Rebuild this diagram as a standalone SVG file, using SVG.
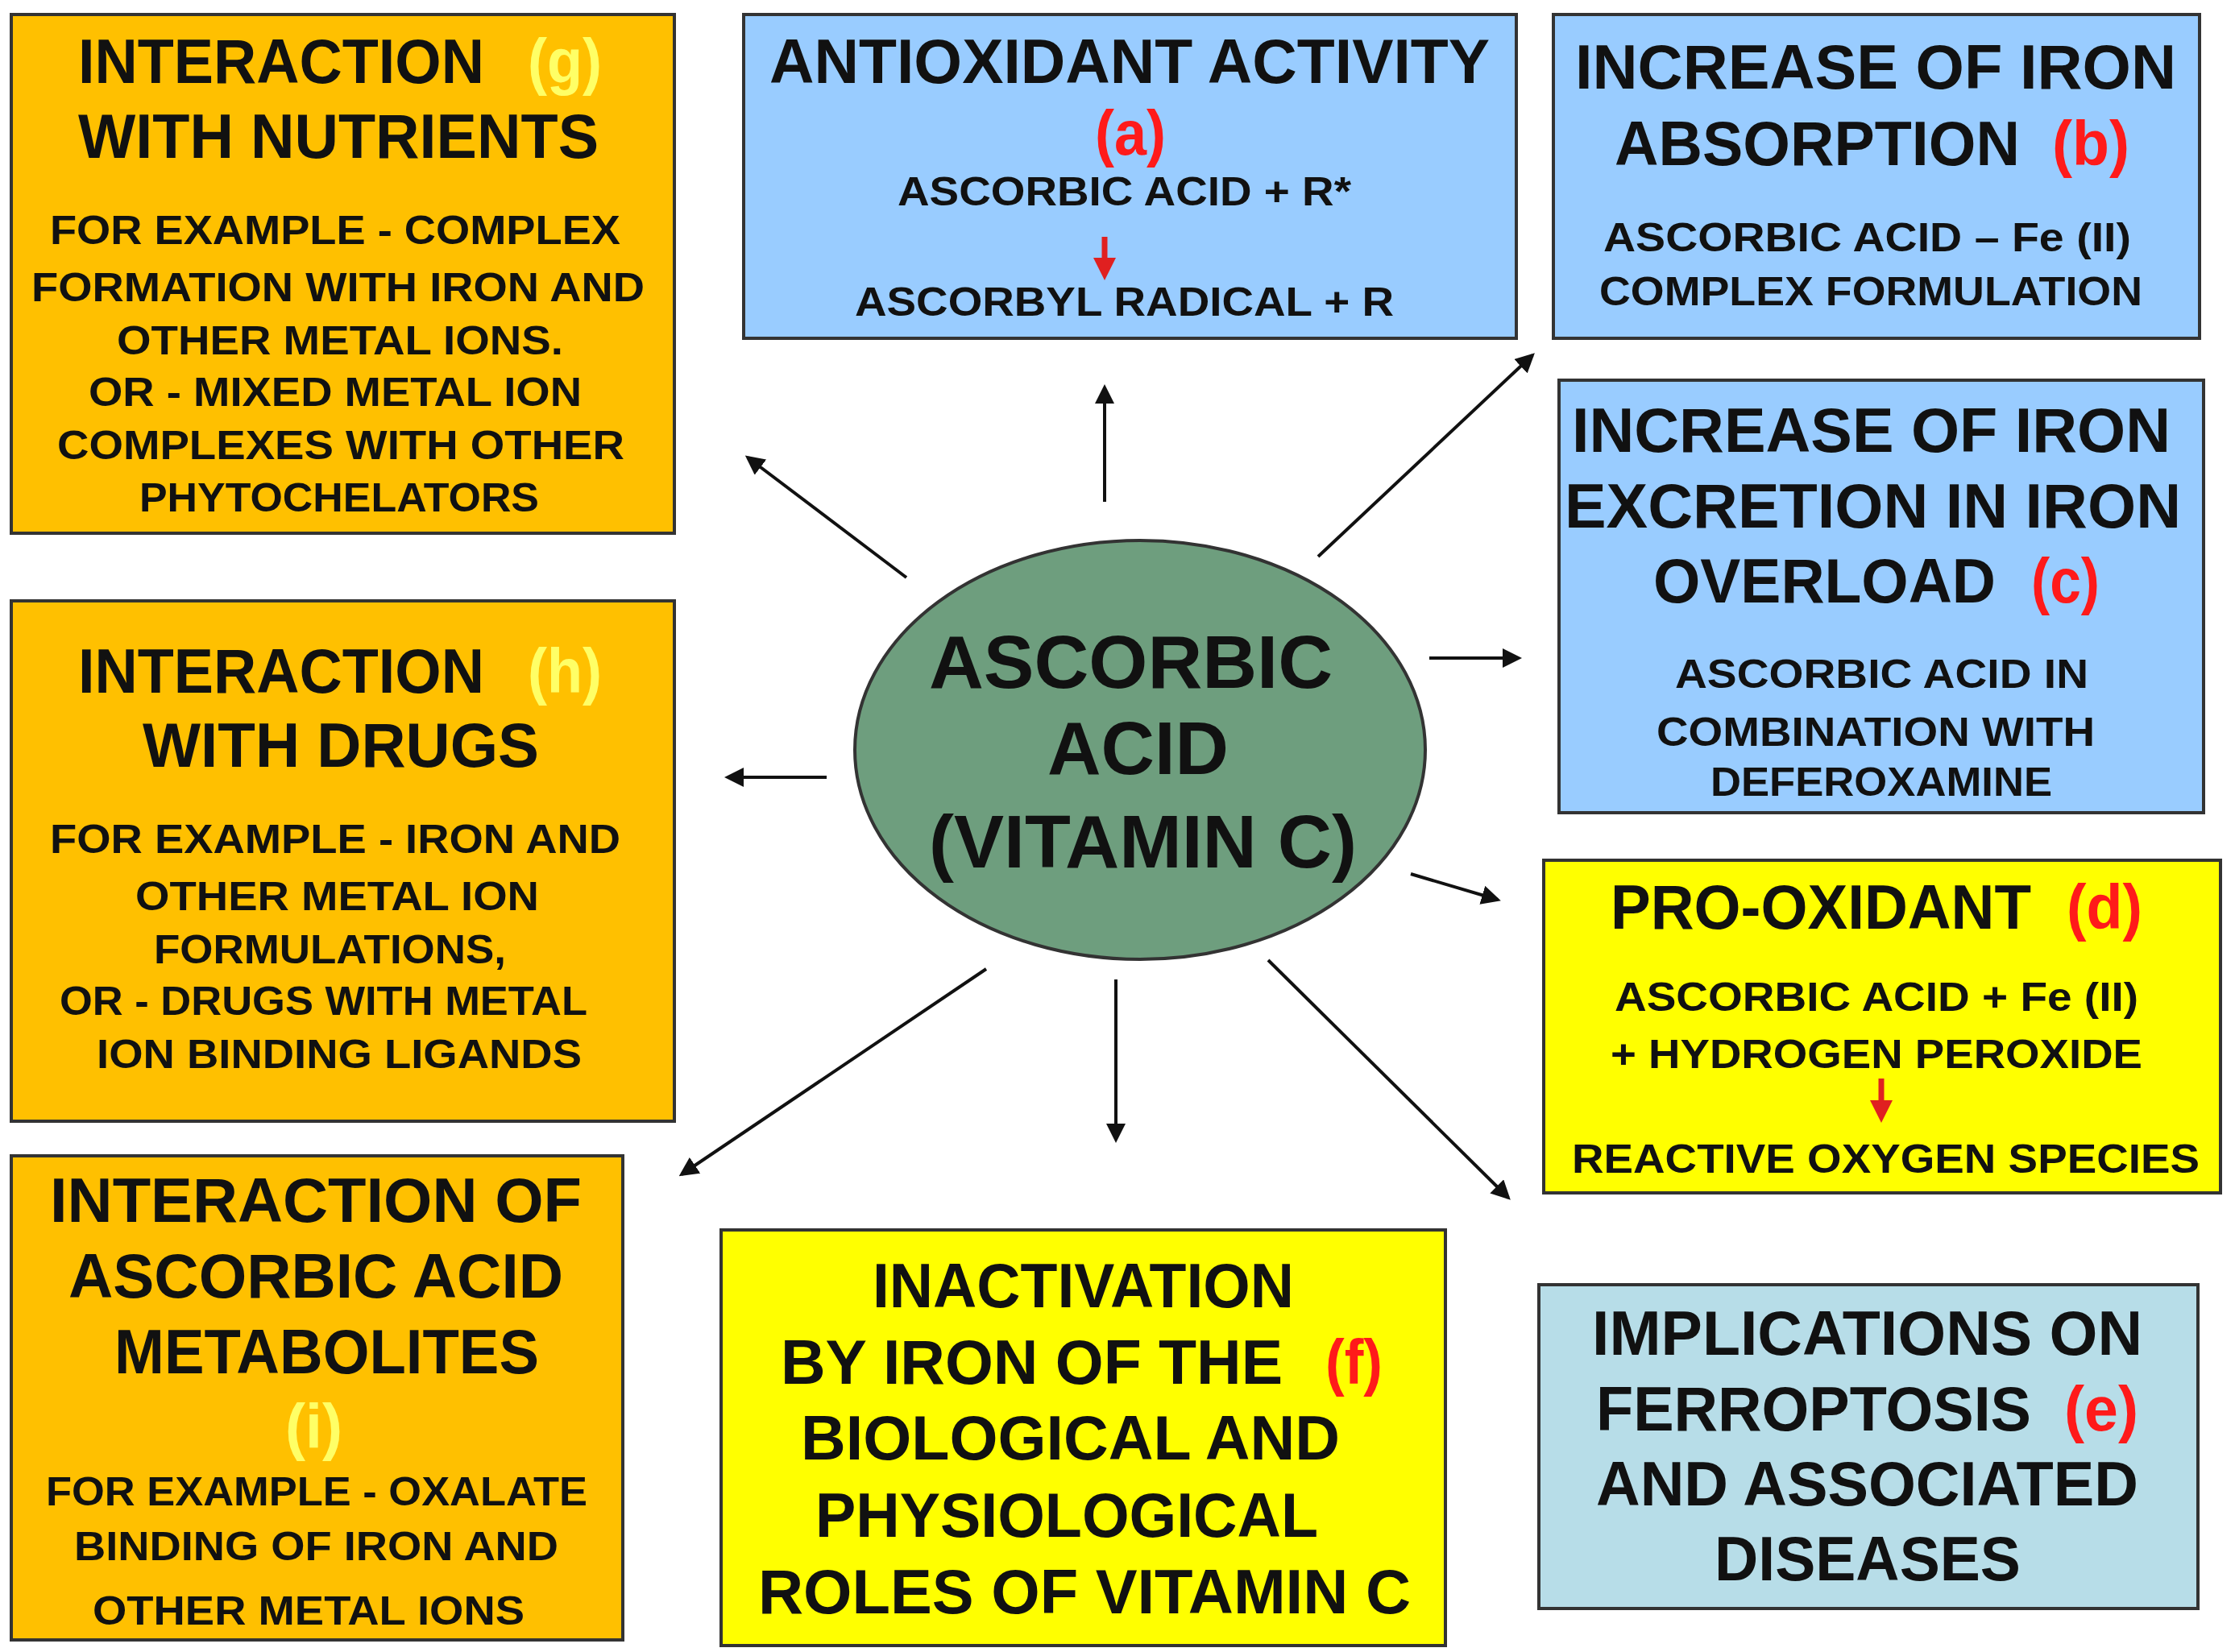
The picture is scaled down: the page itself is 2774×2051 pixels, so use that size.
<svg xmlns="http://www.w3.org/2000/svg" width="2774" height="2051" viewBox="0 0 2774 2051">
<style>
text{font-family:"Liberation Sans",Arial,sans-serif;font-weight:bold;fill:#111}
.t{font-size:78px}.s{font-size:50px}.e{font-size:92px}
.r{fill:#ff1a1a}.y{fill:#ffff66}
.box{stroke:#333;stroke-width:4}
.o{fill:#ffc000}.bl{fill:#99ccff}.ye{fill:#ffff00}.lt{fill:#b7dde8}
.c line{stroke:#111;stroke-width:4;marker-end:url(#ah)}
</style>
<defs>
<marker id="ah" markerWidth="6" markerHeight="6" refX="5" refY="3" orient="auto" markerUnits="strokeWidth"><path d="M0,0L6,3L0,6z" fill="#111"/></marker>
<marker id="rh" markerWidth="4" markerHeight="4" refX="2" refY="2" orient="auto" markerUnits="strokeWidth"><path d="M0,0L4,2L0,4z" fill="#e02020"/></marker>
</defs>
<rect width="2774" height="2051" fill="#fff"/>
<g id="g"><rect class="box o" x="14" y="18" width="823" height="644"/>
<text class="t" x="97" y="103" textLength="504" lengthAdjust="spacingAndGlyphs">INTERACTION</text>
<text class="t y" x="655" y="103" textLength="92" lengthAdjust="spacingAndGlyphs">(g)</text>
<text class="t" x="97" y="196" textLength="646" lengthAdjust="spacingAndGlyphs">WITH NUTRIENTS</text>
<text class="s" x="62" y="303" textLength="708" lengthAdjust="spacingAndGlyphs">FOR EXAMPLE  - COMPLEX</text>
<text class="s" x="39" y="374" textLength="761" lengthAdjust="spacingAndGlyphs">FORMATION  WITH IRON AND</text>
<text class="s" x="145" y="440" textLength="554" lengthAdjust="spacingAndGlyphs">OTHER METAL  IONS.</text>
<text class="s" x="110" y="504" textLength="612" lengthAdjust="spacingAndGlyphs">OR - MIXED METAL  ION</text>
<text class="s" x="71" y="570" textLength="704" lengthAdjust="spacingAndGlyphs">COMPLEXES WITH OTHER</text>
<text class="s" x="173" y="635" textLength="496" lengthAdjust="spacingAndGlyphs">PHYTOCHELATORS</text></g>
<g id="a"><rect class="box bl" x="923" y="18" width="959" height="402"/>
<text class="t" x="955" y="103" textLength="894" lengthAdjust="spacingAndGlyphs">ANTIOXIDANT  ACTIVITY</text>
<text class="t r" x="1359" y="192" textLength="88" lengthAdjust="spacingAndGlyphs">(a)</text>
<text class="s" x="1114" y="255" textLength="563" lengthAdjust="spacingAndGlyphs">ASCORBIC ACID + R*</text>
<line x1="1371" y1="294" x2="1371" y2="334" stroke="#e02020" stroke-width="7" marker-end="url(#rh)"/>
<text class="s" x="1061" y="392" textLength="669" lengthAdjust="spacingAndGlyphs">ASCORBYL  RADICAL  + R</text></g>
<g id="b"><rect class="box bl" x="1928" y="18" width="802" height="402"/>
<text class="t" x="1955" y="110" textLength="746" lengthAdjust="spacingAndGlyphs">INCREASE  OF IRON</text>
<text class="t" x="2004" y="205" textLength="503" lengthAdjust="spacingAndGlyphs">ABSORPTION</text>
<text class="t r" x="2547" y="205" textLength="96" lengthAdjust="spacingAndGlyphs">(b)</text>
<text class="s" x="1990" y="312" textLength="655" lengthAdjust="spacingAndGlyphs">ASCORBIC ACID – Fe (II)</text>
<text class="s" x="1985" y="379" textLength="674" lengthAdjust="spacingAndGlyphs">COMPLEX  FORMULATION</text></g>
<g id="c"><rect class="box bl" x="1935" y="472" width="800" height="537"/>
<text class="t" x="1951" y="561" textLength="743" lengthAdjust="spacingAndGlyphs">INCREASE  OF IRON</text>
<text class="t" x="1942" y="655" textLength="765" lengthAdjust="spacingAndGlyphs">EXCRETION  IN IRON</text>
<text class="t" x="2052" y="748" textLength="425" lengthAdjust="spacingAndGlyphs">OVERLOAD</text>
<text class="t r" x="2521" y="748" textLength="85" lengthAdjust="spacingAndGlyphs">(c)</text>
<text class="s" x="2079" y="854" textLength="513" lengthAdjust="spacingAndGlyphs">ASCORBIC ACID IN</text>
<text class="s" x="2056" y="926" textLength="544" lengthAdjust="spacingAndGlyphs">COMBINATION  WITH</text>
<text class="s" x="2123" y="988" textLength="424" lengthAdjust="spacingAndGlyphs">DEFEROXAMINE</text></g>
<g id="d"><rect class="box ye" x="1916" y="1068" width="840" height="413"/>
<text class="t" x="1999" y="1153" textLength="522" lengthAdjust="spacingAndGlyphs">PRO-OXIDANT</text>
<text class="t r" x="2565" y="1153" textLength="94" lengthAdjust="spacingAndGlyphs">(d)</text>
<text class="s" x="2004" y="1255" textLength="650" lengthAdjust="spacingAndGlyphs">ASCORBIC ACID + Fe (II)</text>
<text class="s" x="1999" y="1326" textLength="660" lengthAdjust="spacingAndGlyphs">+ HYDROGEN  PEROXIDE</text>
<line x1="2335" y1="1339" x2="2335" y2="1380" stroke="#e02020" stroke-width="7" marker-end="url(#rh)"/>
<text class="s" x="1951" y="1456" textLength="779" lengthAdjust="spacingAndGlyphs">REACTIVE  OXYGEN  SPECIES</text></g>
<g id="e"><rect class="box lt" x="1910" y="1595" width="818" height="402" stroke="#7fa9b5"/>
<text class="t" x="1976" y="1682" textLength="683" lengthAdjust="spacingAndGlyphs">IMPLICATIONS ON</text>
<text class="t" x="1981" y="1776" textLength="540" lengthAdjust="spacingAndGlyphs">FERROPTOSIS</text>
<text class="t r" x="2562" y="1776" textLength="92" lengthAdjust="spacingAndGlyphs">(e)</text>
<text class="t" x="1981" y="1869" textLength="673" lengthAdjust="spacingAndGlyphs">AND ASSOCIATED</text>
<text class="t" x="2128" y="1962" textLength="380" lengthAdjust="spacingAndGlyphs">DISEASES</text></g>
<g id="f"><rect class="box ye" x="895" y="1527" width="899" height="516"/>
<text class="t" x="1083" y="1623" textLength="523" lengthAdjust="spacingAndGlyphs">INACTIVATION</text>
<text class="t" x="969" y="1718" textLength="623" lengthAdjust="spacingAndGlyphs">BY IRON OF THE</text>
<text class="t r" x="1645" y="1718" textLength="71" lengthAdjust="spacingAndGlyphs">(f)</text>
<text class="t" x="994" y="1812" textLength="669" lengthAdjust="spacingAndGlyphs">BIOLOGICAL  AND</text>
<text class="t" x="1012" y="1908" textLength="624" lengthAdjust="spacingAndGlyphs">PHYSIOLOGICAL</text>
<text class="t" x="941" y="2003" textLength="810" lengthAdjust="spacingAndGlyphs">ROLES  OF VITAMIN C</text></g>
<g id="h"><rect class="box o" x="14" y="746" width="823" height="646"/>
<text class="t" x="97" y="860" textLength="504" lengthAdjust="spacingAndGlyphs">INTERACTION</text>
<text class="t y" x="655" y="860" textLength="92" lengthAdjust="spacingAndGlyphs">(h)</text>
<text class="t" x="177" y="952" textLength="492" lengthAdjust="spacingAndGlyphs">WITH DRUGS</text>
<text class="s" x="62" y="1059" textLength="708" lengthAdjust="spacingAndGlyphs">FOR EXAMPLE  - IRON AND</text>
<text class="s" x="168" y="1130" textLength="501" lengthAdjust="spacingAndGlyphs">OTHER METAL  ION</text>
<text class="s" x="191" y="1196" textLength="437" lengthAdjust="spacingAndGlyphs">FORMULATIONS,</text>
<text class="s" x="74" y="1260" textLength="655" lengthAdjust="spacingAndGlyphs">OR - DRUGS WITH METAL</text>
<text class="s" x="120" y="1326" textLength="602" lengthAdjust="spacingAndGlyphs">ION BINDING LIGANDS</text></g>
<g id="i"><rect class="box o" x="14" y="1435" width="759" height="601"/>
<text class="t" x="62" y="1517" textLength="660" lengthAdjust="spacingAndGlyphs">INTERACTION  OF</text>
<text class="t" x="85" y="1611" textLength="614" lengthAdjust="spacingAndGlyphs">ASCORBIC ACID</text>
<text class="t" x="142" y="1705" textLength="527" lengthAdjust="spacingAndGlyphs">METABOLITES</text>
<text class="t y" x="354" y="1798" textLength="71" lengthAdjust="spacingAndGlyphs">(i)</text>
<text class="s" x="57" y="1869" textLength="672" lengthAdjust="spacingAndGlyphs">FOR EXAMPLE  - OXALATE</text>
<text class="s" x="92" y="1937" textLength="601" lengthAdjust="spacingAndGlyphs">BINDING OF IRON AND</text>
<text class="s" x="115" y="2017" textLength="536" lengthAdjust="spacingAndGlyphs">OTHER METAL  IONS</text></g>
<g id="center"><ellipse cx="1415" cy="931" rx="354" ry="260" fill="#6e9e7e" stroke="#333" stroke-width="4"/>
<text class="e" x="1153" y="854" textLength="501" lengthAdjust="spacingAndGlyphs">ASCORBIC</text>
<text class="e" x="1300" y="961" textLength="225" lengthAdjust="spacingAndGlyphs">ACID</text>
<text class="e" x="1153" y="1077" textLength="531" lengthAdjust="spacingAndGlyphs">(VITAMIN C)</text></g>
<g id="connectors" class="c">
<line x1="1371" y1="623" x2="1371" y2="481"/>
<line x1="1636" y1="691" x2="1902" y2="441"/>
<line x1="1774" y1="817" x2="1885" y2="817"/>
<line x1="1751" y1="1085" x2="1859" y2="1117"/>
<line x1="1574" y1="1192" x2="1872" y2="1487"/>
<line x1="1385" y1="1216" x2="1385" y2="1415"/>
<line x1="1224" y1="1203" x2="846" y2="1458"/>
<line x1="1026" y1="965" x2="903" y2="965"/>
<line x1="1125" y1="717" x2="928" y2="568"/>
</g>
</svg>
